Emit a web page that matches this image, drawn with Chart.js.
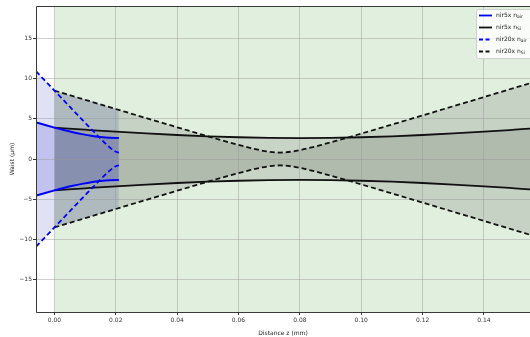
<!DOCTYPE html>
<html>
<head>
<meta charset="utf-8">
<script src="https://cdn.jsdelivr.net/npm/chart.js@4/dist/chart.umd.min.js"></script>
<style>
  html, body { margin: 0; padding: 0; background: #fff; }
  #wrap { width: 530px; height: 337px; position: relative; }
</style>
</head>
<body>
<div id="wrap"><canvas id="c" width="530" height="337"></canvas></div>
<script>
// Beam radius w (µm) along the propagation distance z (mm)
const zAir5  = [-0.006, -0.003, 0, 0.003, 0.006, 0.009, 0.012, 0.015, 0.018, 0.021];
const wAir5  = [4.55, 4.22, 3.90, 3.60, 3.33, 3.09, 2.88, 2.73, 2.63, 2.60];

const zAir20 = [-0.006, -0.003, 0, 0.005, 0.01, 0.015, 0.018, 0.02, 0.021];
const wAir20 = [10.90, 9.70, 8.50, 6.49, 4.50, 2.55, 1.45, 0.90, 0.80];

const zSi5   = [0, 0.01, 0.02, 0.03, 0.04, 0.05, 0.06, 0.07, 0.08, 0.09, 0.10, 0.11, 0.12, 0.13, 0.14, 0.15, 0.155];
const wSi5   = [3.90, 3.64, 3.39, 3.17, 2.98, 2.82, 2.70, 2.63, 2.60, 2.63, 2.70, 2.82, 2.98, 3.17, 3.39, 3.64, 3.77];

const zSi20  = [0, 0.01, 0.02, 0.03, 0.04, 0.05, 0.055, 0.06, 0.064, 0.067, 0.07, 0.0735, 0.077, 0.08, 0.083, 0.087, 0.092, 0.097, 0.107, 0.117, 0.127, 0.137, 0.147, 0.155];
const wSi20  = [8.50, 7.35, 6.21, 5.07, 3.94, 2.82, 2.27, 1.75, 1.36, 1.10, 0.90, 0.80, 0.90, 1.10, 1.36, 1.75, 2.27, 2.82, 3.94, 5.07, 6.21, 7.35, 8.50, 9.41];

// Shaded cone of the 20x beam up to its focus in air
const zCone20 = [-0.006, -0.003, 0, 0.005, 0.01, 0.015, 0.02, 0.021];
const wCone20 = [10.90, 9.70, 8.50, 7.93, 7.35, 6.78, 6.21, 6.10];

// Silicon region (z from the surface onward)
const siliconStart = 0;
const siliconEnd = 0.155;

const xTicks = [0, 0.02, 0.04, 0.06, 0.08, 0.10, 0.12, 0.14];
const yTicks = [-15, -10, -5, 0, 5, 10, 15];
const xRange = [-0.006, 0.155];
const yRange = [-19, 19];

const legendNames = ['nir5x n', 'nir5x n', 'nir20x n', 'nir20x n'];
const legendSubs  = ['air', 'Si', 'air', 'Si'];

const BLUE = '#0000ff';
const BLACK = '#111111';
const FONT = '"DejaVu Sans", sans-serif';

const pts = (zs, ws, sign) => zs.map((z, i) => ({ x: z, y: sign * ws[i] }));

function beam(zs, ws, color, dashed, fillColor, width) {
  const common = {
    borderColor: color,
    borderWidth: width,
    borderDash: dashed ? [5, 3] : [],
    pointRadius: 0,
    cubicInterpolationMode: 'monotone',
  };
  return [
    Object.assign({ data: pts(zs, ws, 1), fill: fillColor ? '+1' : false, backgroundColor: fillColor || 'transparent' }, common),
    Object.assign({ data: pts(zs, ws, -1), fill: false }, common),
  ];
}

const datasets = [
  ...beam(zAir5, wAir5, BLUE, false, 'rgba(40,40,200,0.17)', 2),
  ...beam(zAir20, wAir20, BLUE, true, null, 1.8),
  ...beam(zSi5, wSi5, BLACK, false, 'rgba(0,0,0,0.11)', 1.8),
  ...beam(zSi20, wSi20, BLACK, true, 'rgba(0,0,0,0.12)', 1.8),
  ...beam(zCone20, wCone20, 'transparent', false, 'rgba(40,40,190,0.14)', 0),
  {
    data: [{ x: siliconStart, y: yRange[1] }, { x: siliconEnd, y: yRange[1] }],
    borderWidth: 0, borderColor: 'transparent', pointRadius: 0,
    fill: 'start', backgroundColor: 'rgba(40,140,20,0.14)',
  },
];

// Axes frame on the left, top and bottom
const framePlugin = {
  id: 'frame',
  afterDraw(chart) {
    const { ctx, chartArea: a } = chart;
    ctx.save();
    ctx.strokeStyle = '#3a3a3a';
    ctx.lineWidth = 1;
    ctx.beginPath();
    ctx.moveTo(a.right + 1, a.top + 0.5);
    ctx.lineTo(a.left + 0.5, a.top + 0.5);
    ctx.lineTo(a.left + 0.5, a.bottom + 0.5);
    ctx.lineTo(a.right + 1, a.bottom + 0.5);
    ctx.stroke();
    ctx.restore();
  }
};

// Legend box with subscripted refractive-index labels
const legendPlugin = {
  id: 'beamLegend',
  afterDraw(chart) {
    const { ctx, chartArea: a } = chart;
    const x0 = a.left + 440, y0 = a.top + 3, w = 62, h = 49;
    ctx.save();
    ctx.fillStyle = 'rgba(255,255,255,0.8)';
    ctx.strokeStyle = 'rgba(204,204,204,0.9)';
    ctx.lineWidth = 1;
    ctx.beginPath();
    ctx.roundRect(x0 + 0.5, y0 + 0.5, w, h, 2);
    ctx.fill();
    ctx.stroke();
    const styles = [
      { c: BLUE, d: [] }, { c: BLACK, d: [] }, { c: BLUE, d: [4, 2.5] }, { c: BLACK, d: [4, 2.5] }
    ];
    legendNames.forEach((name, i) => {
      const y = y0 + 6.5 + i * 12;
      ctx.strokeStyle = styles[i].c;
      ctx.setLineDash(styles[i].d);
      ctx.lineWidth = 1.8;
      ctx.beginPath();
      ctx.moveTo(x0 + 3, y);
      ctx.lineTo(x0 + 16, y);
      ctx.stroke();
      ctx.setLineDash([]);
      ctx.fillStyle = '#222';
      ctx.textBaseline = 'middle';
      ctx.font = '6px ' + FONT;
      ctx.fillText(name, x0 + 20, y);
      const tw = ctx.measureText(name).width;
      ctx.font = '4.5px ' + FONT;
      ctx.fillText(legendSubs[i], x0 + 20 + tw, y + 1.8);
    });
    ctx.restore();
  }
};

new Chart(document.getElementById('c'), {
  type: 'line',
  data: { datasets },
  options: {
    responsive: false,
    animation: false,
    events: [],
    layout: { padding: { top: 6, right: 0, left: 0, bottom: 0 } },
    plugins: {
      legend: { display: false },
      tooltip: { enabled: false },
      filler: { drawTime: 'beforeDraw', propagate: false },
    },
    scales: {
      x: {
        type: 'linear',
        min: xRange[0], max: xRange[1],
        afterBuildTicks: (s) => { s.ticks = xTicks.map(v => ({ value: v })); },
        afterFit: (s) => { s.height = 25; },
        ticks: {
          color: '#333', font: { family: FONT, size: 6 }, padding: 2,
          maxRotation: 0, autoSkip: false,
          callback: (v) => Number(v).toFixed(2),
        },
        grid: { color: 'rgba(150,150,150,0.45)', lineWidth: 1, tickLength: 3, tickColor: '#333' },
        border: { display: false },
        title: { display: true, text: 'Distance z (mm)', color: '#222', font: { family: FONT, size: 6 }, padding: { top: 3.4, bottom: 0 } },
      },
      y: {
        type: 'linear',
        min: yRange[0], max: yRange[1],
        afterBuildTicks: (s) => { s.ticks = yTicks.map(v => ({ value: v })); },
        afterFit: (s) => { s.width = 36; },
        ticks: {
          color: '#333', font: { family: FONT, size: 6 }, padding: 1, autoSkip: false,
          callback: (v) => (v < 0 ? '\u2212' + Math.abs(v) : String(v)),
        },
        grid: { color: 'rgba(150,150,150,0.45)', lineWidth: 1, tickLength: 3, tickColor: '#333' },
        border: { display: false },
        title: { display: true, text: 'Waist (\u03bcm)', color: '#222', font: { family: FONT, size: 6 }, padding: { top: 9, bottom: 0 } },
      },
    },
  },
  plugins: [framePlugin, legendPlugin],
});
</script>
</body>
</html>
